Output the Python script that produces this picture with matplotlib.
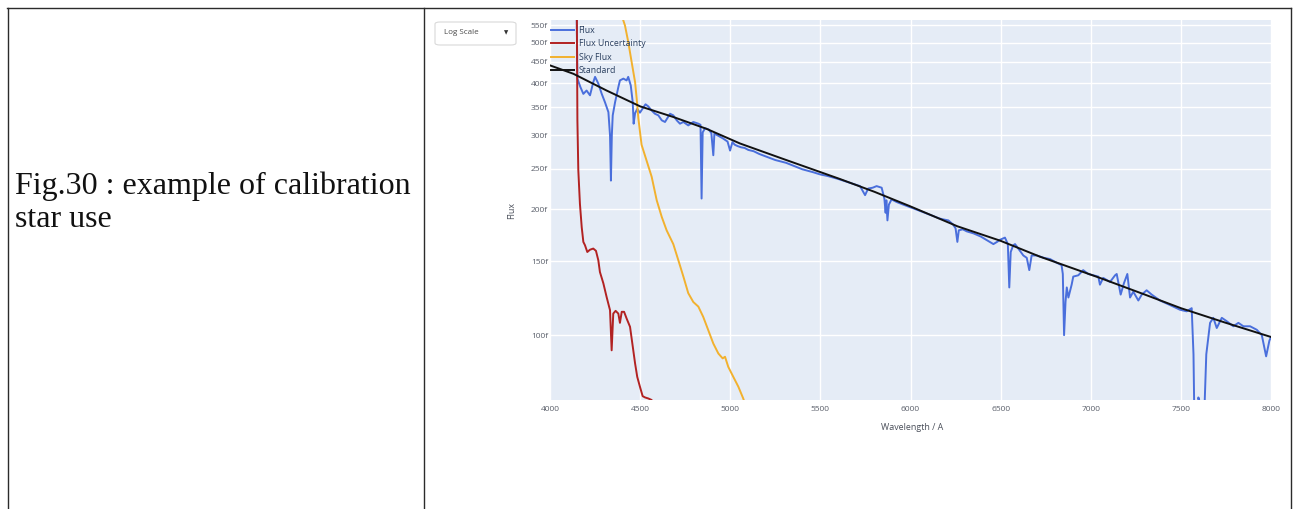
import matplotlib
matplotlib.use("Agg")
import matplotlib.pyplot as plt
from matplotlib.lines import Line2D
from matplotlib.patches import FancyBboxPatch
from matplotlib.ticker import NullLocator

# ---- spectrum data (flux in femto units, wavelength in Angstrom) ----
flux_wl = [4000, 4140, 4152, 4168, 4185, 4203, 4222, 4240, 4250, 4268, 4287, 4305, 4324,
           4333, 4338, 4343, 4348, 4361, 4379, 4388, 4407, 4425, 4434, 4448, 4459, 4464,
           4468, 4472, 4484, 4499, 4518, 4530, 4545, 4564, 4582, 4601, 4620, 4638, 4666,
           4684, 4703, 4721, 4740, 4767, 4795, 4823, 4835, 4841, 4847, 4860, 4880, 4895,
           4906, 4912, 4930, 4960, 4985, 4999, 5012, 5025, 5040, 5060, 5080, 5100, 5130,
           5160, 5190, 5220, 5250, 5280, 5310, 5340, 5370, 5400, 5430, 5460, 5500, 5540,
           5570, 5600, 5640, 5680, 5720, 5748, 5765, 5790, 5812, 5840, 5855, 5862, 5866,
           5872, 5880, 5895, 5923, 5960, 6000, 6040, 6080, 6120, 6160, 6182, 6210, 6235,
           6250, 6260, 6268, 6290, 6312, 6350, 6390, 6430, 6460, 6480, 6497, 6524, 6540,
           6548, 6556, 6570, 6580, 6598, 6626, 6645, 6659, 6672, 6700, 6740, 6774, 6810,
           6838, 6845, 6852, 6860, 6867, 6876, 6894, 6903, 6931, 6958, 6986, 7014, 7042,
           7051, 7069, 7107, 7135, 7144, 7166, 7184, 7203, 7218, 7236, 7264, 7283, 7310,
           7338, 7384, 7440, 7495, 7532, 7560, 7570, 7578, 7590, 7597, 7606, 7612, 7621,
           7641, 7662, 7680, 7699, 7727, 7754, 7791, 7819, 7847, 7884, 7921, 7949, 7973,
           7991, 8000]
flux_val = [1800, 1200, 410, 392, 377, 384, 374, 402, 414, 399, 377, 360, 341,
            300, 234, 300, 335, 360, 391, 406, 410, 406, 414, 395, 360, 320,
            330, 339, 347, 340, 350, 356, 352, 344, 338, 335, 326, 323, 338,
            335, 326, 320, 323, 317, 323, 320, 318, 212, 305, 312, 310, 304,
            269, 303, 300, 295, 290, 276, 289, 285, 283, 281, 280, 277, 275,
            271, 268, 265, 262, 260, 258, 255, 252, 249, 247, 245, 242, 240,
            238, 236, 233, 230, 227, 216, 224, 225, 227, 225, 212, 196, 210,
            188, 205, 211, 208, 205, 202, 199, 196, 193, 190, 189, 188, 184,
            180, 167, 178, 179, 177, 175, 172, 168, 165, 167, 169, 171, 165,
            130, 158, 164, 165, 161, 155, 153, 143, 155, 155, 153, 152, 149,
            147, 140, 100, 120, 130, 123, 132, 138, 139, 143, 140, 139, 138,
            132, 137, 134, 139, 140, 125, 133, 140, 123, 127, 121, 125, 128,
            125, 121, 118, 115, 114, 116, 90, 50, 50, 71, 69, 50, 50,
            90, 107, 110, 104, 110, 108, 105, 107, 105, 105, 103, 100, 89,
            97, 99]

unc_wl = [4000, 4148, 4152, 4157, 4166, 4176, 4185, 4194, 4207, 4222, 4240, 4255, 4268,
          4277, 4296, 4314, 4333, 4342, 4351, 4364, 4379, 4388, 4398, 4411, 4425, 4444,
          4462, 4472, 4484, 4499, 4514, 4527, 4545, 4564, 4580, 4600]
unc_val = [3000, 700, 326, 248, 206, 181, 167, 164, 158, 160, 161, 159, 151,
           141.5, 133, 123.4, 114.7, 92, 112.6, 114.3, 112.6, 107, 113.7, 113.7, 109.6, 104.7,
           92, 85.6, 79.5, 75.3, 71.5, 71, 70.6, 70, 66, 60]

sky_wl = [4300, 4380, 4398, 4416, 4434, 4453, 4472, 4481, 4490, 4508, 4536, 4564, 4592,
          4620, 4647, 4684, 4712, 4740, 4767, 4795, 4823, 4850, 4878, 4906, 4934, 4958,
          4971, 4989, 5017, 5045, 5072, 5100]
sky_val = [1500, 650, 580, 549, 502, 449, 402, 367, 330, 285, 261, 239, 210,
           191.6, 178, 165, 151, 138, 126, 120, 117, 110.6, 102.8, 95.5, 90.4, 88,
           88.8, 84, 79.5, 75.3, 70.6, 65]

std_wl = [4000, 4130, 4314, 4500, 4684, 4869, 5054, 5300, 5609, 5800, 6000, 6260, 6500,
          6718, 7051, 7300, 7500, 7750, 8000]
std_val = [441, 421, 384, 352, 332, 311, 287, 263, 236, 220, 203, 182, 168,
           154, 137, 125, 116, 107, 99]

y_ticks = [100, 150, 200, 250, 300, 350, 400, 450, 500, 550]
x_ticks = [4000, 4500, 5000, 5500, 6000, 6500, 7000, 7500, 8000]

W, H = 1293, 509
fig = plt.figure(figsize=(W / 100, H / 100), dpi=100)
fig.patch.set_facecolor("white")


def fx(px):
    return px / W


def fy(py):
    return 1 - py / H


# table cell borders
border = dict(color="#2b2b2b", lw=1.0)
fig.add_artist(Line2D([fx(7), fx(1290.5)], [fy(7.5), fy(7.5)], **border))
for xb in (7.5, 424, 1290.5):
    fig.add_artist(Line2D([fx(xb), fx(xb)], [fy(7.5), fy(509)], **border))

# caption in the left cell
cap = dict(family="Liberation Serif", fontsize=23, color="#111111", va="baseline", ha="left")
fig.text(fx(15), fy(194), "Fig.30 : example of calibration", **cap)
fig.text(fx(15), fy(227), "star use", **cap)

# plot area
ax = fig.add_axes([fx(550), fy(400), (1271 - 550) / W, (400 - 20) / H])
ax.set_facecolor("#e5ecf6")
ax.plot(flux_wl, flux_val, color="#4a6fdc", lw=1.4, label="Flux")
ax.plot(unc_wl, unc_val, color="#b22222", lw=1.4, label="Flux Uncertainty")
ax.plot(sky_wl, sky_val, color="#f2b12e", lw=1.4, label="Sky Flux")
ax.plot(std_wl, std_val, color="#111111", lw=1.4, label="Standard")

ax.set_yscale("log")
ax.set_xlim(4000, 8000)
ax.set_ylim(70, 566)
ax.yaxis.set_minor_locator(NullLocator())
ax.set_yticks(y_ticks)
ax.set_yticklabels([f"{v}f" for v in y_ticks])
ax.set_xticks(x_ticks)
ax.set_xticklabels([str(v) for v in x_ticks])
ax.grid(True, color="white", lw=1.0)
ax.set_axisbelow(True)
for s in ax.spines.values():
    s.set_visible(False)
ax.tick_params(length=0, labelsize=6, labelcolor="#5a5f6a")
ax.tick_params(axis="x", pad=4)
ax.tick_params(axis="y", pad=1.5)
for lab in ax.get_xticklabels() + ax.get_yticklabels():
    lab.set_family("Open Sans")

leg = ax.legend(loc="upper left", bbox_to_anchor=(0.002, 0.985), frameon=False,
                prop=dict(family="Open Sans", size=6.3), handlelength=2.6,
                handletextpad=0.5, labelspacing=0.52, borderaxespad=0, borderpad=0)
for t in leg.get_texts():
    t.set_color("#2a3f5f")

# axis titles
fig.text(fx(912), fy(428), "Wavelength / A", family="Open Sans", fontsize=6.4,
         color="#4a4f5a", ha="center", va="center")
fig.text(fx(512), fy(210), "Flux", family="Open Sans", fontsize=6.4,
         color="#4a4f5a", ha="center", va="center", rotation=90)

# scale selector
box = FancyBboxPatch((fx(435), fy(45)), fx(516) - fx(435), fy(22) - fy(45),
                     boxstyle="round,pad=0,rounding_size=0.004",
                     transform=fig.transFigure, facecolor="white",
                     edgecolor="#d9d9d9", lw=0.8)
fig.add_artist(box)
fig.text(fx(444), fy(33), "Log Scale", family="Open Sans", fontsize=5.8,
         color="#4a4a4a", ha="left", va="center")
fig.text(fx(506), fy(32.5), "\u25bc", family="DejaVu Sans", fontsize=4,
         color="#333333", ha="center", va="center")

fig.savefig("out.png", dpi=100)
